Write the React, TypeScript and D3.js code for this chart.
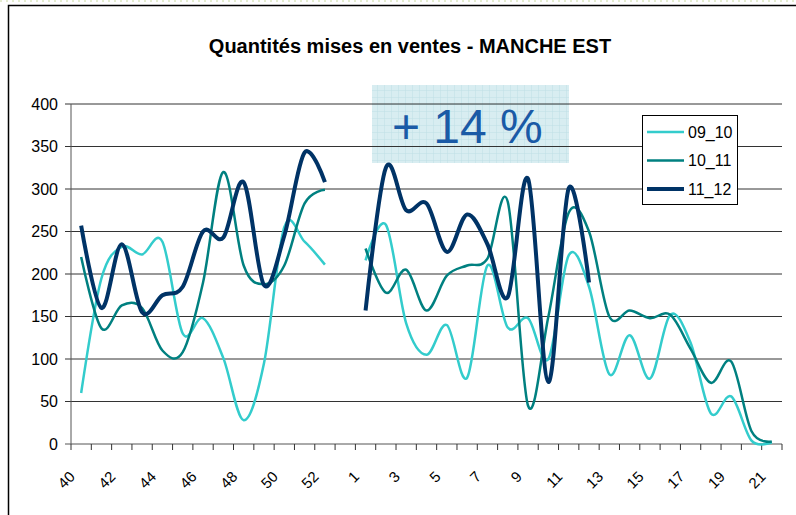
import React from "react";
import * as d3 from "d3";

// weeks 40..53 then 1..21
const weeks = [
  "40", "41", "42", "43", "44", "45", "46", "47", "48", "49", "50", "51", "52", "53",
  "1", "2", "3", "4", "5", "6", "7", "8", "9", "10", "11", "12", "13", "14", "15",
  "16", "17", "18", "19", "20", "21",
];

const s0910 = [
  60, 195, 232, 223, 238, 130, 148, 101, 28, 95, 255, 238, 211, null,
  216, 258, 142, 105, 140, 78, 210, 137, 148, 100, 222, 185, 82, 128, 77,
  152, 119, 36, 56, 4, 2,
];
const s1011 = [
  220, 136, 163, 160, 110, 108, 190, 320, 210, 188, 210, 283, 299, null,
  230, 178, 205, 157, 198, 210, 218, 285, 45, 150, 272, 250, 150, 157, 148,
  152, 112, 72, 97, 15, 3,
];
const s1112 = [
  257, 160, 235, 155, 175, 185, 250, 243, 308, 187, 245, 343, 308, null,
  157, 325, 275, 283, 226, 270, 235, 173, 312, 73, 301, 190, null, null, null,
  null, null, null, null, null, null,
];

const seriesNames = ["09_10", "10_11", "11_12"];
const seriesColors = ["#33CCCC", "#008080", "#003366"];
const seriesWidths = [2.5, 2.5, 4];
const yTicks = [0, 50, 100, 150, 200, 250, 300, 350, 400];

const width = 796;
const height = 515;
const margin = { top: 104, right: 14, bottom: 71, left: 71 };

const App = () => {
  const innerWidth = width - margin.left - margin.right;
  const innerHeight = height - margin.top - margin.bottom;
  const allSeries = [s0910, s1011, s1112];

  const xScale = d3
    .scaleBand()
    .domain(weeks)
    .range([0, innerWidth])
    .padding(0);

  const yScale = d3.scaleLinear().domain([0, 400]).range([innerHeight, 0]);

  const xc = (i: number) => xScale(weeks[i])! + xScale.bandwidth() / 2;

  const line = d3
    .line<number | null>()
    .defined((d) => d !== null)
    .x((d, i) => xc(i))
    .y((d) => yScale(d as number))
    .curve(d3.curveCatmullRom.alpha(0));

  return (
    <svg
      width={width}
      height={height}
      style={{ position: "absolute", left: 0, top: 0, fontFamily: "'Liberation Sans', Arial, sans-serif" }}
    >
      <defs>
        <pattern id="grid" width={7} height={7} patternUnits="userSpaceOnUse">
          <rect width={7} height={7} fill="#d8edf1" />
          <path d="M7 0 V7 M0 7 H7" stroke="#bfdfe6" strokeWidth={1} />
        </pattern>
      </defs>
      <rect x={0} y={0} width={width} height={height} fill="#fff" />
      <line x1={0} x2={width} y1={1} y2={1} stroke="#c8d8a0" strokeDasharray="2,4" />
      <rect x={8.5} y={5.5} width={width} height={height} fill="none" stroke="#000" strokeWidth={1.5} />

      <text x={410} y={53} textAnchor="middle" fontSize={20} fontWeight="bold">
        Quantités mises en ventes - MANCHE EST
      </text>

      {/* + 14 % box */}
      <rect x={372} y={85} width={197} height={78} fill="url(#grid)" />
      <text x={392} y={143} fontSize={48} fill="#1a5aa6">
        + 14 %
      </text>

      <g transform={`translate(${margin.left},${margin.top})`}>
        {
          // horizontal grid + y labels
          yTicks.map((t) => (
            <g key={t} transform={`translate(0,${yScale(t)})`}>
              <line x1={-6} x2={innerWidth} stroke={t === 0 ? "#555" : "#333"} strokeWidth={1} />
              <text x={-13} dy=".35em" textAnchor="end" fontSize={16}>
                {t}
              </text>
            </g>
          ))
        }
        <line x1={0} x2={0} y1={0} y2={innerHeight} stroke="#555" />
        {
          // x ticks at band boundaries
          weeks.map((w) => (
            <line
              key={"t" + w}
              x1={xScale(w)!}
              x2={xScale(w)!}
              y1={innerHeight}
              y2={innerHeight + 6}
              stroke="#333"
            />
          ))
        }
        <line x1={innerWidth} x2={innerWidth} y1={innerHeight} y2={innerHeight + 6} stroke="#333" />
        {
          // x labels, every other week
          weeks.map((w, i) =>
            i % 2 === 0 ? (
              <text
                key={"l" + w}
                fontSize={15}
                textAnchor="end"
                transform={`translate(${xc(i) - 9},${innerHeight + 30}) rotate(-45)`}
                dy=".35em"
              >
                {w}
              </text>
            ) : null
          )
        }
        {
          // series lines
          allSeries.map((s, k) => (
            <path
              key={seriesNames[k]}
              d={line(s) || ""}
              fill="none"
              stroke={seriesColors[k]}
              strokeWidth={seriesWidths[k]}
              strokeLinejoin="round"
            />
          ))
        }
      </g>

      {/* legend */}
      <g transform="translate(642,115)">
        <rect x={0.5} y={0.5} width={95} height={89} fill="#fff" stroke="#000" />
        {seriesNames.map((n, k) => (
          <g key={n} transform={`translate(0,${17 + k * 28.5})`}>
            <line x1={5} x2={42} stroke={seriesColors[k]} strokeWidth={seriesWidths[k]} />
            <text x={46} dy=".35em" fontSize={16}>
              {n}
            </text>
          </g>
        ))}
      </g>
    </svg>
  );
};

export default App;
